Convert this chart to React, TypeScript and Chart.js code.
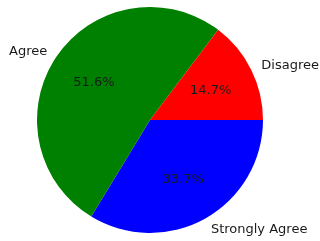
import React, { useEffect, useRef } from "react";
import { Chart, registerables } from "chart.js";

Chart.register(...registerables);

const categories = ["Disagree", "Agree", "Strongly Agree"];
const values = [14.7, 51.6, 33.7];
const colors = ["#ff0000", "#008000", "#0000ff"];

const labelPlugin = {
  id: "mplLabels",
  afterDatasetsDraw(chart: any) {
    const ctx = chart.ctx;
    const meta = chart.getDatasetMeta(0);
    const labels = chart.data.labels as string[];
    const data = chart.data.datasets[0].data as number[];
    const total = data.reduce((a, b) => a + b, 0);
    ctx.save();
    ctx.font = "13px 'DejaVu Sans'";
    ctx.textBaseline = "middle";
    meta.data.forEach((arc: any, i: number) => {
      const mid = (arc.startAngle + arc.endAngle) / 2;
      const r = arc.outerRadius;
      const c = Math.cos(mid);
      const s = Math.sin(mid);
      ctx.fillStyle = "#1a1a1a";
      ctx.textAlign = c >= 0 ? "left" : "right";
      ctx.fillText(labels[i], arc.x + c * r * 1.1, arc.y + s * r * 1.1 + 1);
      ctx.textAlign = "center";
      ctx.fillText(((data[i] / total) * 100).toFixed(1) + "%", arc.x + c * r * 0.6, arc.y + s * r * 0.6 + 1);
    });
    ctx.restore();
  },
};

export default function App() {
  const ref = useRef<HTMLCanvasElement>(null);
  useEffect(() => {
    const order = [2, 1, 0];
    const chart = new Chart(ref.current!, {
      type: "pie",
      data: {
        labels: order.map((i) => categories[i]),
        datasets: [
          {
            data: order.map((i) => values[i]),
            backgroundColor: order.map((i) => colors[i]),
            borderWidth: 0,
          },
        ],
      },
      options: {
        responsive: false,
        animation: false,
        rotation: 90,
        layout: { padding: { left: 37, right: 57, top: 7, bottom: 8 } },
        plugins: { legend: { display: false }, tooltip: { enabled: false } },
      },
      plugins: [labelPlugin],
    });
    return () => chart.destroy();
  }, []);
  return (
    <div style={{ position: "absolute", left: 0, top: 0, width: 320, height: 241, background: "#fff" }}>
      <canvas ref={ref} width={320} height={241} />
    </div>
  );
}
